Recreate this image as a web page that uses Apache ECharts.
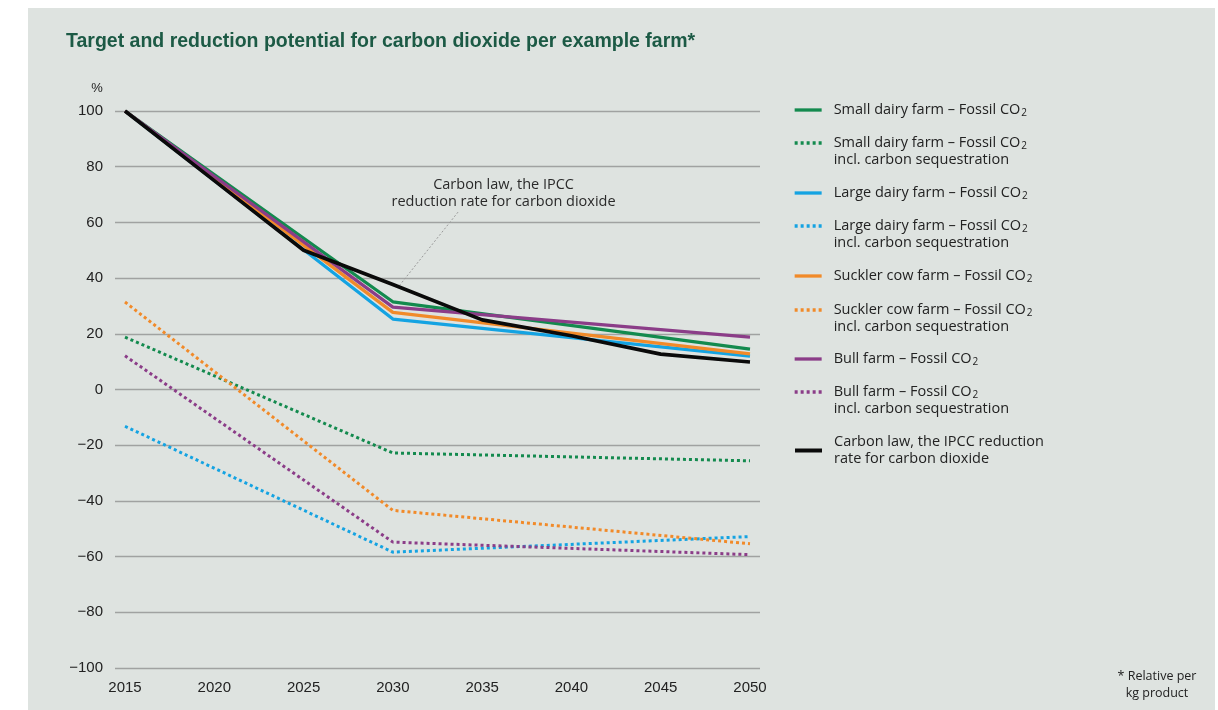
<!DOCTYPE html>
<html><head><meta charset="utf-8">
<script src="https://cdn.jsdelivr.net/npm/echarts@6/dist/echarts.min.js"></script>
<style>html,body{margin:0;padding:0;background:#fff}#c{width:1218px;height:710px}</style>
</head><body><div id="c"></div><script>
// ---- data ----
const years = [2015, 2020, 2025, 2030, 2035, 2040, 2045, 2050];
const farmYears = [2015, 2030, 2050];
const yTicks = [-100, -80, -60, -40, -20, 0, 20, 40, 60, 80, 100];
const smallDairy = [100, 31.5, 14.5];
const smallDairySeq = [18.8, -22.8, -25.6];
const largeDairy = [100, 25.3, 12.0];
const largeDairySeq = [-13.2, -58.4, -52.8];
const sucklerCow = [100, 27.7, 12.8];
const sucklerCowSeq = [31.4, -43.4, -55.4];
const bullFarm = [100, 29.6, 18.8];
const bullFarmSeq = [12.1, -54.8, -59.3];
const carbonLaw = [100, 75, 50, 37.7, 25, 19.3, 12.7, 9.9];
const seriesNames = [
  'Small dairy farm – Fossil CO2',
  'Small dairy farm – Fossil CO2 incl. carbon sequestration',
  'Large dairy farm – Fossil CO2',
  'Large dairy farm – Fossil CO2 incl. carbon sequestration',
  'Suckler cow farm – Fossil CO2',
  'Suckler cow farm – Fossil CO2 incl. carbon sequestration',
  'Bull farm – Fossil CO2',
  'Bull farm – Fossil CO2 incl. carbon sequestration',
  'Carbon law, the IPCC reduction rate for carbon dioxide'
];
const legendLabels = [
  'Small dairy farm – Fossil CO{s|2}',
  'Small dairy farm – Fossil CO{s|2}\nincl. carbon sequestration',
  'Large dairy farm – Fossil CO{s|2}',
  'Large dairy farm – Fossil CO{s|2}\nincl. carbon sequestration',
  'Suckler cow farm – Fossil CO{s|2}',
  'Suckler cow farm – Fossil CO{s|2}\nincl. carbon sequestration',
  'Bull farm – Fossil CO{s|2}',
  'Bull farm – Fossil CO{s|2}\nincl. carbon sequestration',
  'Carbon law, the IPCC reduction\nrate for carbon dioxide'
];
const annotationText = 'Carbon law, the IPCC\nreduction rate for carbon dioxide';
const annotationAt = [2036.2, 70.4];
const leaderFrom = [2033.65, 63.7];
const leaderTo = [2030.4, 37.6];

// ---- styles ----
const GREEN = '#138a4e', BLUE = '#14a3e2', ORANGE = '#f18a29', PURPLE = '#8b3d88', BLACK = '#0a0a0a';
const FONT = 'Liberation Sans, Arial, sans-serif';
const TFONT = 'Open Sans, Noto Sans, sans-serif';
const DOT = [3, 3];

function pairs(xs, ys) { return xs.map((x, i) => [x, ys[i]]); }
function line(name, xs, ys, color, dotted, extra) {
  return Object.assign({
    name, type: 'line', xAxisIndex: 0, yAxisIndex: 0,
    data: pairs(xs, ys), symbol: 'none', color,
    lineStyle: { color, width: dotted ? 3 : 3.3, type: dotted ? DOT : 'solid', cap: 'butt' },
    animation: false
  }, extra || {});
}

const series = [
  line(seriesNames[0], farmYears, smallDairy, GREEN, false),
  line(seriesNames[1], farmYears, smallDairySeq, GREEN, true),
  line(seriesNames[2], farmYears, largeDairy, BLUE, false),
  line(seriesNames[3], farmYears, largeDairySeq, BLUE, true),
  line(seriesNames[4], farmYears, sucklerCow, ORANGE, false),
  line(seriesNames[5], farmYears, sucklerCowSeq, ORANGE, true),
  line(seriesNames[6], farmYears, bullFarm, PURPLE, false),
  line(seriesNames[7], farmYears, bullFarmSeq, PURPLE, true),
  line(seriesNames[8], years, carbonLaw, BLACK, false, {
    z: 5,
    lineStyle: { color: BLACK, width: 3.6, type: 'solid' },
    markPoint: {
      symbol: 'circle', symbolSize: 0, silent: true, animation: false,
      label: { show: true, position: 'inside', formatter: annotationText, color: '#2a2a2a',
               fontFamily: TFONT, fontSize: 14.5, lineHeight: 16.5, align: 'center' },
      data: [{ coord: annotationAt }]
    },
    markLine: {
      symbol: 'none', silent: true, animation: false,
      label: { show: false },
      lineStyle: { color: '#9a9a9a', width: 1, type: [2, 2] },
      data: [[{ coord: leaderFrom }, { coord: leaderTo }]]
    }
  })
];

// legends: one per item so positions match
const legendCenters = [110, 143, 193, 226, 276, 310, 359, 392, 442];
const legends = seriesNames.map((n, i) => {
  const twoLine = legendLabels[i].indexOf('\n') >= 0 && i !== 8;
  const top = twoLine ? legendCenters[i] - 25.5 : legendCenters[i] - 8.5;
  return {
    data: [n], left: 793, top: top, orient: 'vertical', padding: 0,
    itemWidth: 27, itemHeight: 14, selectedMode: false,
    itemStyle: { opacity: 0, color: 'transparent', borderWidth: 0 },
    lineStyle: { width: i === 8 ? 4 : 3.3 },
    formatter: () => legendLabels[i],
    textStyle: {
      fontFamily: TFONT, fontSize: 14.5, color: '#222', lineHeight: 17,
      padding: twoLine ? [17, 0, 0, 7] : [0, 0, 0, 7],
      rich: { s: { fontFamily: TFONT, fontSize: 10, lineHeight: 17, verticalAlign: 'bottom', padding: [6, 0, 0, 1] } }
    }
  };
});

const option = {
  backgroundColor: '#ffffff',
  animation: false,
  graphic: [{ type: 'rect', z: -100, silent: true, shape: { x: 28, y: 8, width: 1187, height: 702 }, style: { fill: '#dee3e0' } }],
  title: [
    { text: 'Target and reduction potential for carbon dioxide per example farm*', left: 66, top: 32, padding: 0,
      textStyle: { fontFamily: FONT, fontSize: 19.5, fontWeight: 'bold', color: '#1c5a45' } },
    { text: '* Relative per\nkg product', left: 1152, top: 663, textAlign: 'center',
      textStyle: { fontFamily: TFONT, fontSize: 12.5, fontWeight: 'normal', color: '#222', lineHeight: 17 } }
  ],
  legend: legends,
  grid: [
    { left: 125, right: 468, top: 111, bottom: 42 },
    { left: 115, right: 458, top: 111, bottom: 42 }
  ],
  xAxis: [
    { type: 'value', gridIndex: 0, min: 2015, max: 2050, interval: 5,
      axisLine: { show: false }, axisTick: { show: false }, splitLine: { show: false },
      axisLabel: { margin: 12, fontFamily: FONT, fontSize: 15, color: '#222', formatter: v => String(v) } },
    { type: 'value', gridIndex: 1, min: 0, max: 1, show: false }
  ],
  yAxis: [
    { type: 'value', gridIndex: 0, min: yTicks[0], max: yTicks[yTicks.length - 1], interval: 20,
      name: '%', nameLocation: 'end', nameGap: 16,
      nameTextStyle: { fontFamily: FONT, fontSize: 13, color: '#222', padding: [0, 56, 0, 0] },
      axisLine: { show: false }, axisTick: { show: false }, splitLine: { show: false },
      axisLabel: { margin: 22, fontFamily: FONT, fontSize: 15, color: '#222', padding: [3, 0, 0, 0],
        formatter: v => (v < 0 ? '\u2212' + Math.abs(v) : String(v)) } },
    { type: 'value', gridIndex: 1, min: yTicks[0], max: yTicks[yTicks.length - 1], interval: 20,
      axisLine: { show: false }, axisTick: { show: false }, axisLabel: { show: false },
      splitLine: { show: true, lineStyle: { color: '#a0a2a1', width: 1.3 } } }
  ],
  series
};
const chart = echarts.init(document.getElementById('c'));
chart.setOption(option);
</script></body></html>
